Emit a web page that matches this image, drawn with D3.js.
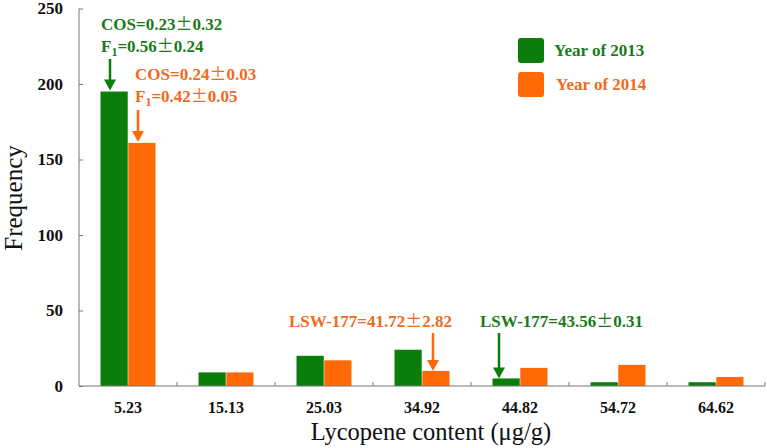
<!DOCTYPE html>
<html><head><meta charset="utf-8">
<script src="https://cdn.jsdelivr.net/npm/d3@7"></script>
<style>body{margin:0;background:#fff}svg{display:block}</style>
</head><body>
<svg id="c" width="767" height="448"></svg>
<script>
const categories = ["5.23","15.13","25.03","34.92","44.82","54.72","64.62"];
const series = ["Year of 2013","Year of 2014"];
const values2013 = [195, 9, 20, 24, 5, 2.5, 2.5];
const values2014 = [161, 9, 17, 10, 12, 14, 6];
const yTicks = [0, 50, 100, 150, 200, 250];
const colors = ["#0a7d0a", "#ff6a06"];
const textColors = ["#1a7a1a", "#f06a1e"];

const svg = d3.select("#c");
const font = "'Liberation Serif','Times New Roman',serif";
const pmFont = "'Noto Sans CJK SC','Liberation Serif',serif";
const x0 = 79, x1 = 765, yTop = 8.5, yBot = 386;

const x = d3.scaleBand().domain(categories).range([x0, x1]).paddingInner(0).paddingOuter(0);
const xs = d3.scaleBand().domain(series).range([0, 55]).paddingInner(0.02);
const y = d3.scaleLinear().domain([0, 250]).range([yBot, yTop]);

// bars
const data = categories.map((c, i) => ({c, v: [values2013[i], values2014[i]]}));
const g = svg.append("g");
data.forEach(d => {
  d.v.forEach((v, j) => {
    g.append("rect")
      .attr("x", x(d.c) + (x.bandwidth() - 55) / 2 + xs(series[j]))
      .attr("width", xs.bandwidth())
      .attr("y", y(v))
      .attr("height", yBot - y(v))
      .attr("fill", colors[j]);
  });
});

// y axis
const yAxis = d3.axisRight(y).tickValues(yTicks).tickSize(4).tickFormat("");
const ya = svg.append("g").attr("transform", `translate(${x0},0)`).call(yAxis);
ya.select(".domain").attr("stroke", "#777").attr("d", `M0,${yTop}V${yBot}`);
ya.selectAll(".tick line").attr("stroke", "#777");
svg.append("g").selectAll("text").data(yTicks).join("text")
  .attr("x", 63).attr("y", d => y(d) + 5.5)
  .attr("text-anchor", "end")
  .attr("font-family", font).attr("font-weight", "bold").attr("font-size", 17)
  .attr("fill", "#111").text(d => d);

// x axis
const xa = svg.append("g").attr("transform", `translate(0,${yBot})`);
xa.append("line").attr("x1", x0).attr("x2", x1).attr("stroke", "#777");
const bounds = categories.map(c => x(c) + x.bandwidth());
xa.selectAll(".tk").data(bounds).join("line")
  .attr("x1", d => d).attr("x2", d => d).attr("y1", 0).attr("y2", -4).attr("stroke", "#777");
xa.selectAll("text").data(categories).join("text")
  .attr("x", d => x(d) + x.bandwidth() / 2).attr("y", 27)
  .attr("text-anchor", "middle")
  .attr("font-family", font).attr("font-weight", "bold").attr("font-size", 16)
  .attr("fill", "#111").text(d => d);

// axis titles
svg.append("text").attr("transform", "translate(22,198) rotate(-90)")
  .attr("text-anchor", "middle").attr("font-family", font).attr("font-size", 25)
  .attr("fill", "#111").text("Frequency");
svg.append("text").attr("x", 431).attr("y", 440)
  .attr("text-anchor", "middle").attr("font-family", font).attr("font-size", 24.5)
  .attr("fill", "#111").text("Lycopene content (μg/g)");

// legend
series.forEach((s, j) => {
  const ly = 38 + j * 34;
  svg.append("rect").attr("x", 518).attr("y", ly).attr("width", 26).attr("height", 25)
    .attr("rx", 3).attr("fill", colors[j]);
  svg.append("text").attr("x", 554 + j * 2).attr("y", ly + 18)
    .attr("font-family", font).attr("font-weight", "bold").attr("font-size", 17)
    .attr("fill", textColors[j]).text(s);
});

// arrows
function arrow(xp, yStart, yEnd, color) {
  svg.append("line").attr("x1", xp).attr("x2", xp).attr("y1", yStart).attr("y2", yEnd - 9)
    .attr("stroke", color).attr("stroke-width", 2.5);
  svg.append("path").attr("d", `M${xp - 6},${yEnd - 11}L${xp + 6},${yEnd - 11}L${xp},${yEnd}Z`)
    .attr("fill", color);
}
function label(xp, yp, parts, color, anchor) {
  const t = svg.append("text").attr("x", xp).attr("y", yp)
    .attr("font-family", font).attr("font-weight", "bold").attr("font-size", 17)
    .attr("fill", color).attr("text-anchor", anchor || "start");
  parts.forEach(p => {
    const ts = t.append("tspan").text(p.t);
    if (p.sub) ts.attr("font-size", 12).attr("dy", 4);
    if (p.up) ts.attr("dy", -4);
    if (p.pm) ts.attr("font-family", pmFont).attr("font-weight", "normal");
  });
}
const pmParts = (a, b) => [{t:a},{t:"±",pm:true},{t:b}];
label(101, 30, pmParts("COS=0.23", "0.32"), textColors[0]);
label(101, 52, [{t:"F"},{t:"1",sub:true},{t:"=0.56",up:true},{t:"±",pm:true},{t:"0.24"}], textColors[0]);
arrow(110, 59, y(values2013[0]) - 1, colors[0]);
label(135, 80, pmParts("COS=0.24", "0.03"), textColors[1]);
label(135, 102, [{t:"F"},{t:"1",sub:true},{t:"=0.42",up:true},{t:"±",pm:true},{t:"0.05"}], textColors[1]);
arrow(138, 110, y(values2014[0]) - 1, colors[1]);

label(452, 327, pmParts("LSW-177=41.72", "2.82"), textColors[1], "end");
arrow(433, 333, y(values2014[3]), colors[1]);
label(480, 327, pmParts("LSW-177=43.56", "0.31"), textColors[0]);
arrow(499, 333, y(values2013[4]), colors[0]);
</script>
</body></html>
